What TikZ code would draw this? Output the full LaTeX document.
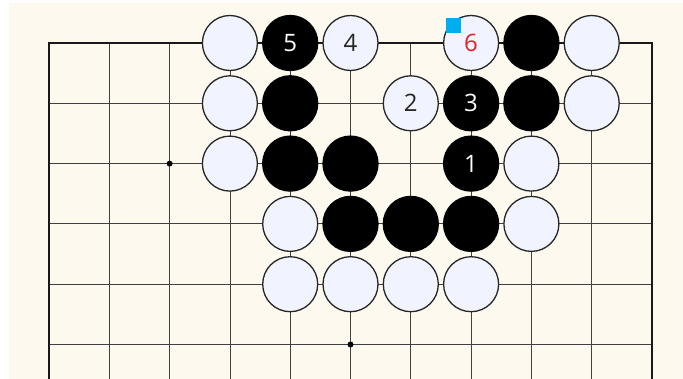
\documentclass[tikz,border=0pt]{standalone}
\usepackage{fontspec}
\setmainfont{Open Sans}
\definecolor{board}{HTML}{FDF9EE}
\definecolor{wfill}{HTML}{F1F4FE}
\definecolor{mred}{HTML}{E3202B}
\definecolor{mcyan}{HTML}{00AEEF}
\begin{document}
\begin{tikzpicture}[x=1pt,y=-1pt,
  wst/.style={circle,draw=black!85,line width=1.3pt,fill=wfill,minimum size=55pt,inner sep=0pt,font=\fontsize{24}{26}\selectfont,text=black!85},
  bst/.style={circle,draw=black,line width=1.3pt,fill=black,minimum size=55pt,inner sep=0pt,font=\fontsize{24}{26}\selectfont,text=white},
  gridline/.style={line width=0.8pt,draw=black!75},
  edge/.style={line width=1.6pt,draw=black!90},
  star/.style={circle,fill=black,inner sep=0pt,minimum size=6pt}]
\useasboundingbox (0,0) rectangle (683,379);
\fill[white] (0,0) rectangle (683,379);
\fill[board] (8.5,3) rectangle (683,379);
% grid
\foreach \i in {1,...,9} \draw[gridline] ({49+60.3*\i},43) -- ({49+60.3*\i},379);
\foreach \j in {1,...,5} \draw[gridline] (49,{43+60.3*\j}) -- (652,{43+60.3*\j});
\draw[edge] (49,379) -- (49,43) -- (652,43) -- (652,379);
\node[star] (s1) at ({49+60.3*2},{43+60.3*2}) {};
\node[star] (s2) at ({49+60.3*5},{43+60.3*5}) {};
% row 0
\node[wst] (a3) at ({49+60.3*3},43) {};
\node[bst] (a4) at ({49+60.3*4},43) {5};
\node[wst] (a5) at ({49+60.3*5},43) {4};
\node[wst,text=mred] (a7) at ({49+60.3*7},43) {6};
\node[bst] (a8) at ({49+60.3*8},43) {};
\node[wst] (a9) at ({49+60.3*9},43) {};
% row 1
\node[wst] (b3) at ({49+60.3*3},{43+60.3}) {};
\node[bst] (b4) at ({49+60.3*4},{43+60.3}) {};
\node[wst] (b6) at ({49+60.3*6},{43+60.3}) {2};
\node[bst] (b7) at ({49+60.3*7},{43+60.3}) {3};
\node[bst] (b8) at ({49+60.3*8},{43+60.3}) {};
\node[wst] (b9) at ({49+60.3*9},{43+60.3}) {};
% row 2
\node[wst] (c3) at ({49+60.3*3},{43+60.3*2}) {};
\node[bst] (c4) at ({49+60.3*4},{43+60.3*2}) {};
\node[bst] (c5) at ({49+60.3*5},{43+60.3*2}) {};
\node[bst] (c7) at ({49+60.3*7},{43+60.3*2}) {1};
\node[wst] (c8) at ({49+60.3*8},{43+60.3*2}) {};
% row 3
\node[wst] (d4) at ({49+60.3*4},{43+60.3*3}) {};
\node[bst] (d5) at ({49+60.3*5},{43+60.3*3}) {};
\node[bst] (d6) at ({49+60.3*6},{43+60.3*3}) {};
\node[bst] (d7) at ({49+60.3*7},{43+60.3*3}) {};
\node[wst] (d8) at ({49+60.3*8},{43+60.3*3}) {};
% row 4
\node[wst] (e4) at ({49+60.3*4},{43+60.3*4}) {};
\node[wst] (e5) at ({49+60.3*5},{43+60.3*4}) {};
\node[wst] (e6) at ({49+60.3*6},{43+60.3*4}) {};
\node[wst] (e7) at ({49+60.3*7},{43+60.3*4}) {};
% marker
\node[fill=mcyan,minimum size=15pt,inner sep=0pt] (mk) at (453.5,25.5) {};
\end{tikzpicture}
\end{document}
